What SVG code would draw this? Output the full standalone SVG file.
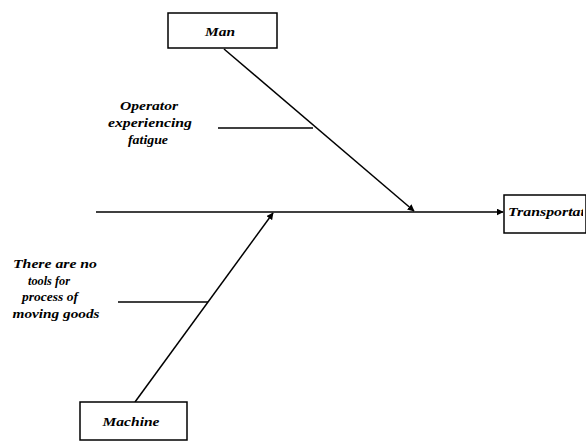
<svg xmlns="http://www.w3.org/2000/svg" width="586" height="441" viewBox="0 0 586 441">
  <style>
    .box { fill: #ffffff; stroke: #000000; stroke-width: 1.5; }
    .line { fill: none; stroke: #000000; stroke-width: 1.5; }
    .label { font-family: "Liberation Serif", "Times New Roman", serif; font-style: italic; font-weight: bold; font-size: 12px; fill: #000000; }
  </style>
  <defs>
    <marker id="arrow" viewBox="0 0 10 10" refX="9" refY="5" markerWidth="7" markerHeight="7" markerUnits="userSpaceOnUse" orient="auto">
      <path d="M0,0 L10,5 L0,10 Z" fill="#000000"/>
    </marker>
    <clipPath id="effectClip">
      <rect x="505" y="196" width="78" height="36"/>
    </clipPath>
  </defs>

  <rect width="586" height="441" fill="#ffffff"/>

  <!-- connectors: spine, category bones and cause ribs -->
  <g id="connectors">
    <line class="line" x1="96" y1="212" x2="503" y2="212" marker-end="url(#arrow)"/>
    <line class="line" x1="224" y1="49" x2="414" y2="211" marker-end="url(#arrow)"/>
    <line class="line" x1="135" y1="402" x2="273" y2="213" marker-end="url(#arrow)"/>
    <line class="line" x1="218" y1="128" x2="313" y2="128"/>
    <line class="line" x1="118" y1="302" x2="208" y2="302"/>
  </g>

  <g id="man">
    <rect class="box" x="168" y="13" width="109" height="35"/>
    <text class="label" x="220" y="36" text-anchor="middle" textLength="30" lengthAdjust="spacingAndGlyphs">Man</text>
  </g>

  <g id="cause-operator">
    <text class="label" x="149" y="110" text-anchor="middle" textLength="58" lengthAdjust="spacingAndGlyphs">Operator</text>
    <text class="label" x="150" y="127" text-anchor="middle" textLength="84" lengthAdjust="spacingAndGlyphs">experiencing</text>
    <text class="label" x="148" y="144" text-anchor="middle" textLength="40" lengthAdjust="spacingAndGlyphs">fatigue</text>
  </g>

  <g id="cause-tools">
    <text class="label" x="55" y="268" text-anchor="middle" textLength="84" lengthAdjust="spacingAndGlyphs">There are no</text>
    <text class="label" x="49" y="285" text-anchor="middle" textLength="42" lengthAdjust="spacingAndGlyphs">tools for</text>
    <text class="label" x="50" y="301" text-anchor="middle" textLength="56" lengthAdjust="spacingAndGlyphs">process of</text>
    <text class="label" x="56" y="318" text-anchor="middle" textLength="87" lengthAdjust="spacingAndGlyphs">moving goods</text>
  </g>

  <g id="machine">
    <rect class="box" x="80" y="402" width="107" height="38"/>
    <text class="label" x="131" y="426" text-anchor="middle" textLength="57" lengthAdjust="spacingAndGlyphs">Machine</text>
  </g>

  <g id="transportation">
    <rect class="box" x="504" y="195" width="82" height="38"/>
    <text class="label" x="508" y="216" clip-path="url(#effectClip)" textLength="98" lengthAdjust="spacingAndGlyphs">Transportation</text>
  </g>
</svg>
